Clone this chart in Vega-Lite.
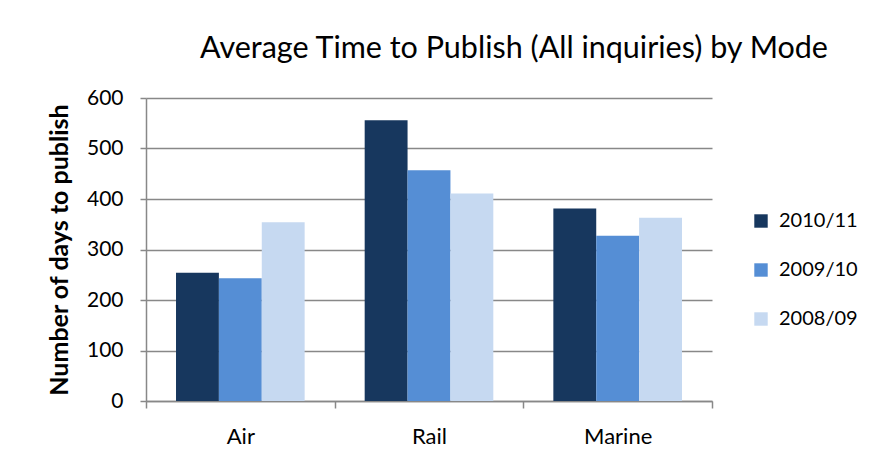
{
  "$schema": "https://vega.github.io/schema/vega-lite/v6.json",
  "width": 566,
  "height": 303,
  "autosize": "none",
  "padding": {"left": 146, "top": 98, "right": 172, "bottom": 60},
  "background": "white",
  "title": {
    "text": "Average Time to Publish (All inquiries) by Mode",
    "font": "Lato",
    "fontSize": 30.5,
    "fontWeight": "normal",
    "color": "#000000",
    "anchor": "start",
    "frame": "group",
    "dx": 54,
    "offset": 23
  },
  "data": {
    "values": [
      {"mode": "Air", "year": "2010/11", "days": 254},
      {"mode": "Air", "year": "2009/10", "days": 243},
      {"mode": "Air", "year": "2008/09", "days": 354},
      {"mode": "Rail", "year": "2010/11", "days": 556},
      {"mode": "Rail", "year": "2009/10", "days": 457},
      {"mode": "Rail", "year": "2008/09", "days": 411},
      {"mode": "Marine", "year": "2010/11", "days": 381},
      {"mode": "Marine", "year": "2009/10", "days": 327},
      {"mode": "Marine", "year": "2008/09", "days": 363}
    ]
  },
  "mark": {"type": "bar"},
  "encoding": {
    "x": {
      "field": "mode",
      "type": "nominal",
      "sort": ["Air", "Rail", "Marine"],
      "scale": {"paddingInner": 0, "paddingOuter": 0},
      "axis": {
        "title": null,
        "labelAngle": 0,
        "labelFont": "Lato",
        "labelFontSize": 22,
        "labelColor": "#000000",
        "labelPadding": 18,
        "tickBand": "extent",
        "tickSize": 7,
        "tickColor": "#888888",
        "tickWidth": 1.5,
        "domainColor": "#888888",
        "domainWidth": 1.5,
        "grid": false
      }
    },
    "xOffset": {
      "field": "year",
      "type": "nominal",
      "sort": ["2010/11", "2009/10", "2008/09"],
      "scale": {"paddingInner": 0, "paddingOuter": 0.7}
    },
    "y": {
      "field": "days",
      "type": "quantitative",
      "scale": {"domain": [0, 600], "nice": false},
      "axis": {
        "title": "Number of days to publish",
        "titleFont": "Lato",
        "titleFontSize": 25,
        "titleFontWeight": "bold",
        "titleColor": "#000000",
        "titlePadding": 14,
        "values": [0, 100, 200, 300, 400, 500, 600],
        "labelFont": "Lato",
        "labelFontSize": 21,
        "labelColor": "#000000",
        "labelPadding": 17,
        "tickSize": 6,
        "tickColor": "#888888",
        "tickWidth": 1.5,
        "domainColor": "#888888",
        "domainWidth": 1.5,
        "gridColor": "#888888",
        "gridWidth": 1.5
      }
    },
    "color": {
      "field": "year",
      "type": "nominal",
      "sort": ["2010/11", "2009/10", "2008/09"],
      "scale": {"domain": ["2010/11", "2009/10", "2008/09"], "range": ["#17375E", "#558ED5", "#C6D9F1"]},
      "legend": {
        "title": null,
        "orient": "none",
        "legendX": 605,
        "legendY": 113,
        "symbolType": "square",
        "symbolSize": 180,
        "symbolStrokeWidth": 0,
        "labelFont": "Lato",
        "labelFontSize": 20,
        "labelColor": "#000000",
        "labelOffset": 8,
        "rowPadding": 29
      }
    }
  },
  "config": {
    "view": {"stroke": null}
  }
}
